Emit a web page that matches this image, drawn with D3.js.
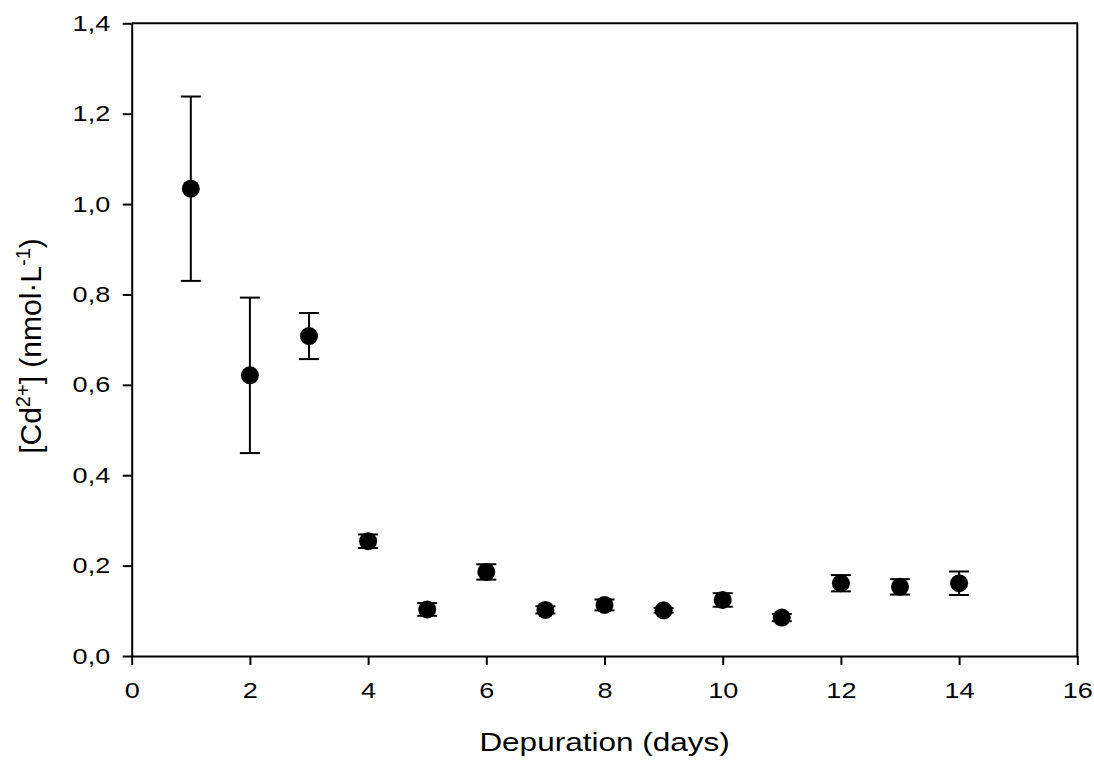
<!DOCTYPE html>
<html>
<head>
<meta charset="utf-8">
<script src="https://cdn.jsdelivr.net/npm/d3@7/dist/d3.min.js"></script>
<style>
  html, body { margin: 0; padding: 0; background: #fff; }
  svg { display: block; }
  text { font-family: "Liberation Sans", Arial, sans-serif; fill: #000; }
</style>
</head>
<body>
<svg id="chart" width="1094" height="760"></svg>
<script>
// Data
const days   = [1, 2, 3, 4, 5, 6, 7, 8, 9, 10, 11, 12, 13, 14];
const cdMean = [1.034, 0.621, 0.708, 0.254, 0.103, 0.186, 0.102, 0.113, 0.101, 0.124, 0.085, 0.161, 0.153, 0.161];
const cdErr  = [0.204, 0.172, 0.051, 0.015, 0.014, 0.017, 0.008, 0.012, 0.005, 0.015, 0.008, 0.018, 0.017, 0.026];
const xTicks = [0, 2, 4, 6, 8, 10, 12, 14, 16];
const yTicks = [0, 0.2, 0.4, 0.6, 0.8, 1.0, 1.2, 1.4];

(function () {
const svg = d3.select("#chart");
const mLeft = 131.7, mRight = 1077.3, mTop = 23.3, mBottom = 656;
const stretch = 1.23;

const x = d3.scaleLinear().domain([0, 16]).range([mLeft, mRight]);
const y = d3.scaleLinear().domain([0, 1.4]).range([mBottom, mTop]);

const fmt = d => d3.format(".1f")(d).replace(".", ",");

// frame (top and right)
svg.append("path")
  .attr("d", `M${mLeft},${mTop}H${mRight}V${mBottom}`)
  .attr("fill", "none").attr("stroke", "#000").attr("stroke-width", 2);

// axes
const xAxis = svg.append("g").attr("transform", `translate(0,${mBottom})`)
  .call(d3.axisBottom(x).tickValues(xTicks).tickFormat(d3.format("d")).tickSize(9).tickSizeOuter(0));
const yAxis = svg.append("g").attr("transform", `translate(${mLeft},0)`)
  .call(d3.axisLeft(y).tickValues(yTicks).tickFormat(fmt).tickSize(9).tickSizeOuter(0));

[xAxis, yAxis].forEach(g => {
  g.select(".domain").attr("stroke", "#000").attr("stroke-width", 2);
  g.selectAll(".tick line").attr("stroke", "#000").attr("stroke-width", 2);
  g.selectAll(".tick text").style("font-family", '"Liberation Sans", Arial, sans-serif').style("font-size", "22px").attr("fill", "#000");
});
xAxis.selectAll(".tick text").attr("y", 0).attr("transform", `translate(0,26) scale(${stretch},1)`);
yAxis.selectAll(".tick text").attr("x", 0).attr("transform", `translate(-21.5,0) scale(${stretch},1)`);

// error bars
const capHalf = 10;
const eb = svg.append("g").attr("stroke", "#000").attr("stroke-width", 2).attr("fill", "none");
days.forEach((d, i) => {
  const cx = x(d), yt = y(cdMean[i] + cdErr[i]), yb = y(cdMean[i] - cdErr[i]);
  eb.append("line").attr("x1", cx).attr("x2", cx).attr("y1", yt).attr("y2", yb);
  eb.append("line").attr("x1", cx - capHalf).attr("x2", cx + capHalf).attr("y1", yt).attr("y2", yt);
  eb.append("line").attr("x1", cx - capHalf).attr("x2", cx + capHalf).attr("y1", yb).attr("y2", yb);
});

// points
svg.append("g").selectAll("circle").data(days).join("circle")
  .attr("cx", d => x(d)).attr("cy", (d, i) => y(cdMean[i]))
  .attr("r", 9).attr("fill", "#000");

// axis titles
svg.append("text")
  .attr("transform", `translate(${(mLeft + mRight) / 2},751) scale(1.26,1)`)
  .attr("text-anchor", "middle").style("font-size", "25px")
  .text("Depuration (days)");

const ytl = svg.append("text")
  .attr("transform", `translate(41,346) rotate(-90)`)
  .attr("text-anchor", "middle").style("font-size", "30px");
ytl.append("tspan").text("[Cd");
ytl.append("tspan").attr("dy", -11).style("font-size", "20px").text("2+");
ytl.append("tspan").attr("dy", 11).text("] (nmol·L");
ytl.append("tspan").attr("dy", -11).style("font-size", "20px").text("-1");
ytl.append("tspan").attr("dy", 11).text(")");
})();
</script>
</body>
</html>
